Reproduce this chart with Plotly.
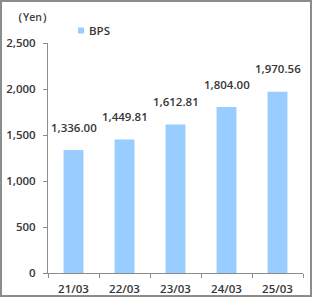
import plotly.graph_objects as go

categories = ["21/03", "22/03", "23/03", "24/03", "25/03"]
bps = [1336.00, 1449.81, 1612.81, 1804.00, 1970.56]
series_name = "BPS"
unit_label = "（Yen）"

W, H = 312, 297
ml, mr, mt, mb = 48, 9, 43, 24
pw, ph = W - ml - mr, H - mt - mb

def px_x(x):
    return (x - ml) / pw

def px_y(y):
    return (H - mb - y) / ph

font = dict(family="Open Sans, Liberation Sans, Arial, sans-serif", size=11.5, color="#363636",
            weight=600)
bar_color = "#99CCFF"

fig = go.Figure()
fig.add_trace(go.Bar(x=categories, y=bps, name=series_name,
                     marker=dict(color=bar_color, line=dict(width=0)),
                     width=0.39, showlegend=False, hoverinfo="skip"))

for c, v in zip(categories, bps):
    fig.add_annotation(x=c, y=v, text=f"{v:,.2f}", showarrow=False, yshift=23, font=font)

fig.add_annotation(xref="paper", yref="paper", x=px_x(10), y=px_y(17), text=unit_label,
                   showarrow=False, font=dict(family=font["family"], size=10.5, color="#404040", weight=600),
                   xanchor="left", yanchor="middle")

# legend
fig.add_shape(type="rect", xref="paper", yref="paper", x0=px_x(78), x1=px_x(84),
              y0=px_y(33.5), y1=px_y(27.5), fillcolor=bar_color, line=dict(width=0))
fig.add_annotation(xref="paper", yref="paper", x=px_x(87), y=px_y(30.5), text=series_name,
                   showarrow=False, font=font, xanchor="left", yanchor="middle")

fig.add_shape(type="rect", xref="paper", yref="paper",
              x0=px_x(1), x1=px_x(W - 1), y0=px_y(H - 1), y1=px_y(1),
              line=dict(color="#8c8c8c", width=2))

fig.update_layout(
    width=W, height=H,
    margin=dict(l=ml, r=mr, t=mt, b=mb, autoexpand=False),
    paper_bgcolor="white", plot_bgcolor="white",
    font=font, showlegend=False,
)
fig.update_xaxes(showline=True, linecolor="#8c8c8c", linewidth=1, ticks="outside", ticklen=4,
                 tickcolor="#8c8c8c", tickson="boundaries", showgrid=False, tickfont=font,
                 ticklabelstandoff=5, automargin=False)
fig.update_yaxes(range=[0, 2500], dtick=500, tickformat=",", showline=True, linecolor="#8c8c8c",
                 linewidth=1, ticks="outside", ticklen=4, tickcolor="#8c8c8c", showgrid=False,
                 zeroline=False, tickfont=font, ticklabelstandoff=5, automargin=False)

fig.write_html("out.html")
